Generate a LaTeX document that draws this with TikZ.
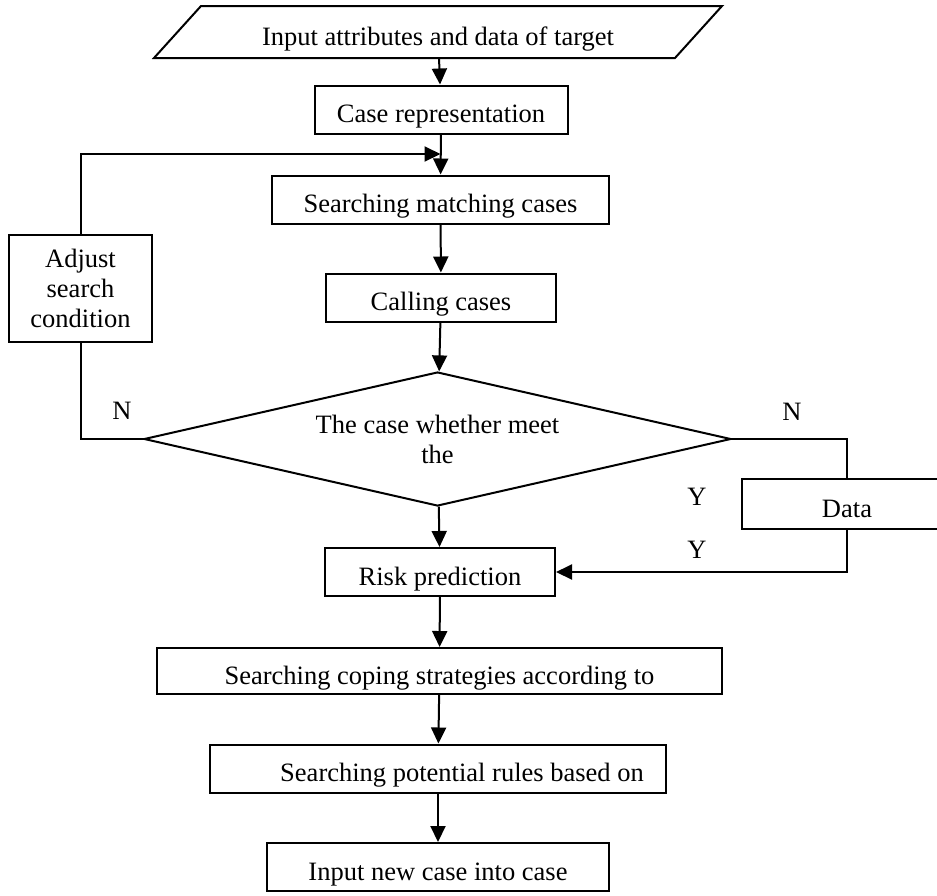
\documentclass[tikz,border=0pt]{standalone}
\usepackage{fontspec}
\setmainfont{Liberation Serif}
\usetikzlibrary{shapes.geometric,arrows.meta}
\begin{document}
\begin{tikzpicture}[x=.5pt, y=-.5pt, >={Triangle[length=8pt,width=7.5pt]}, line width=1pt,
  font=\fontsize{13.25}{15}\selectfont,
  stepbox/.style={draw, rectangle, inner sep=0pt, minimum height=24pt, text height=13pt, text depth=0pt},
  lbl/.style={inner sep=0pt}]
\useasboundingbox (0,0) rectangle (937,895);

\node (inp) [stepbox, draw=none, minimum width=259.5pt, minimum height=25pt] at (438,32) {Input attributes and data of target};
\draw ([xshift=11.75pt]inp.north west) -- ([xshift=11.75pt]inp.north east)
  -- ([xshift=-11.75pt]inp.south east) -- ([xshift=-11.75pt]inp.south west) -- cycle;

\node (case) [stepbox, minimum width=126.5pt] at (441,109.5) {Case representation};
\node (search) [stepbox, minimum width=168.5pt] at (440.5,199.5) {Searching matching cases};
\node (call) [stepbox, minimum width=115pt] at (441,297.5) {Calling cases};
\node (meet) [diamond, draw, aspect=4.38, inner sep=0pt, minimum width=293.5pt, minimum height=67pt, align=center] at (437.5,439) {The case whether meet\\the};
\node (adjust) [draw, inner sep=0pt, minimum width=71.5pt, minimum height=53.5pt, align=center] at (80.5,288.5) {Adjust\\search\\condition};
\node (data) [stepbox, minimum width=105pt, minimum height=25pt] at (847,504) {Data};
\node (risk) [stepbox, minimum width=115pt] at (440,572) {Risk prediction};
\node (coping) [stepbox, minimum width=282.5pt, minimum height=23pt] at (439.5,671) {Searching coping strategies according to};
\node (rules) [stepbox, minimum width=228pt] at (438,768.5) {\hspace*{24pt}Searching potential rules based on};
\node (inew) [stepbox, minimum width=171pt] at (438,867) {Input new case into case};

\node (nl) [lbl] at (122,411) {N};
\node (nr) [lbl] at (792,412) {N};
\node (ya) [lbl] at (697,497) {Y};
\node (yb) [lbl] at (697,550) {Y};

\coordinate (join) at (440.5,154);

\draw [->] (inp) -- (case);
\draw [->] (case) -- (search);
\draw [->] (search) -- (call);
\draw [->] (call) -- (meet);
\draw [->] (meet) -- (risk);
\draw [->] (risk) -- (coping);
\draw [->] (coping) -- (rules);
\draw [->] (rules) -- (inew);

\draw (meet.west) -| (adjust.south);
\draw [->] (adjust.north) |- (join);
\draw (meet.east) -| (data.north);
\draw [->] (data.south) |- (risk.east);

\end{tikzpicture}
\end{document}
